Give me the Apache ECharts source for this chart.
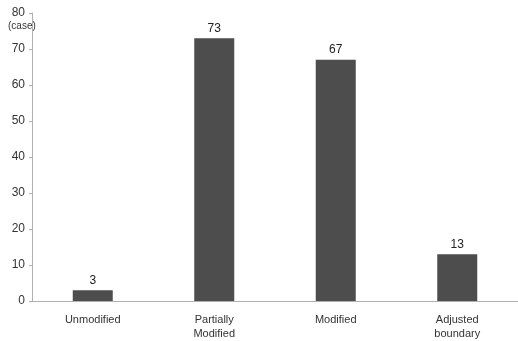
<!DOCTYPE html>
<html><head><meta charset="utf-8">
<script src="https://cdn.jsdelivr.net/npm/echarts@6/dist/echarts.min.js"></script>
<style>html,body{margin:0;padding:0;background:#fff}#c{width:518px;height:341px}</style>
</head><body><div id="c"></div>
<script>
const categories = ['Unmodified', 'Partially\nModified', 'Modified', 'Adjusted\nboundary'];
const values = [3, 73, 67, 13];
const yTicks = [0, 10, 20, 30, 40, 50, 60, 70, 80];

const chart = echarts.init(document.getElementById('c'));
chart.setOption({
  animation: false,
  backgroundColor: '#ffffff',
  textStyle: { fontFamily: 'Liberation Sans, Arial, sans-serif' },
  grid: { left: 32, top: 13, width: 492, bottom: 40 },
  xAxis: {
    type: 'category', data: categories,
    axisLine: { lineStyle: { color: '#b0b0b0', width: 1 } },
    axisTick: { show: false },
    axisLabel: { color: '#333', fontSize: 11, margin: 12, lineHeight: 14 }
  },
  yAxis: {
    type: 'value', min: yTicks[0], max: yTicks[yTicks.length - 1], interval: 10,
    axisLine: { show: true, lineStyle: { color: '#b0b0b0' } },
    axisTick: { show: true, length: 3, lineStyle: { color: '#b0b0b0' } },
    axisLabel: { color: '#333', fontSize: 12, margin: 7 },
    splitLine: { show: false }
  },
  graphic: [{ type: 'text', left: 8, top: 21, style: { text: '(case)', fill: '#333', fontSize: 10, fontFamily: 'Liberation Sans, Arial, sans-serif' } }],
  series: [{
    type: 'bar', data: values, barWidth: 40,
    itemStyle: { color: '#4d4d4d' },
    label: { show: true, position: 'top', color: '#222', fontSize: 12, distance: 4 }
  }]
});
</script></body></html>
